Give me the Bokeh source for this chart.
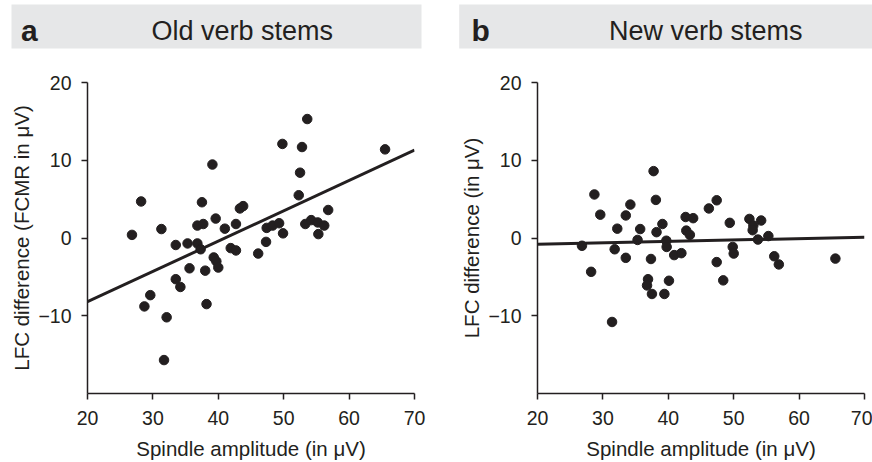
from bokeh.plotting import figure
from bokeh.layouts import column, row
from bokeh.models import FixedTicker, BoxAnnotation, Label, ColumnDataSource
from bokeh.embed import file_html
from bokeh.resources import INLINE

# ---------------- data ----------------
panel_letters = ["a", "b"]
panel_titles = ["Old verb stems", "New verb stems"]
x_label = "Spindle amplitude (in μV)"
y_labels = ["LFC difference (FCMR in μV)", "LFC difference (in μV)"]
x_ticks = [20, 30, 40, 50, 60, 70]
y_ticks = [-10, 0, 10, 20]

old_x = [39.1, 28.2, 37.5, 26.8, 31.3, 36.8, 37.7, 39.6, 41.0, 42.7, 43.3, 43.8,
         53.6, 49.8, 52.8, 65.5, 52.5, 52.3, 56.8, 47.4, 48.3, 49.3, 49.9, 53.3,
         54.2, 55.2, 56.2, 55.3, 47.3, 46.1, 33.5, 35.3, 36.8, 37.3, 41.9, 42.7,
         39.3, 39.7, 40.0, 35.6, 38.0, 33.5, 34.2, 29.6, 28.7, 38.2, 32.1, 31.7]
old_y = [9.45, 4.7, 4.6, 0.4, 1.15, 1.6, 1.8, 2.5, 1.2, 1.8, 3.8, 4.1,
         15.3, 12.1, 11.7, 11.4, 8.4, 5.5, 3.6, 1.3, 1.6, 1.9, 0.6, 1.8,
         2.3, 2.0, 1.6, 0.5, -0.5, -2.0, -0.9, -0.7, -0.7, -1.45, -1.3, -1.6,
         -2.5, -3.0, -3.8, -3.9, -4.2, -5.3, -6.3, -7.35, -8.8, -8.5, -10.2, -15.7]

new_x = [37.75, 28.7, 38.1, 34.2, 29.6, 33.5, 42.65, 43.8, 39.1, 32.2, 35.7, 38.2,
         42.75, 43.3, 35.3, 39.7, 39.75, 26.8, 31.8, 40.9, 42.0, 33.5, 37.35, 28.2,
         36.9, 36.75, 40.1, 37.5, 39.4, 31.4, 47.4, 46.2, 49.4, 52.4, 54.2, 53.0,
         52.9, 53.7, 55.3, 49.85, 50.0, 47.4, 56.2, 56.9, 65.55, 48.4]
new_y = [8.6, 5.6, 4.9, 4.3, 3.0, 2.9, 2.7, 2.55, 1.8, 1.2, 1.15, 0.75,
         0.95, 0.4, -0.25, -0.35, -1.15, -1.0, -1.45, -2.2, -1.95, -2.55, -2.7, -4.35,
         -5.3, -6.1, -5.5, -7.2, -7.2, -10.8, 4.85, 3.8, 1.95, 2.45, 2.25, 1.6,
         1.0, -0.2, 0.25, -1.15, -2.0, -3.1, -2.35, -3.4, -2.65, -5.45]

fit_x = [20, 70]
old_fit_y = [-8.2, 11.3]
new_fit_y = [-0.8, 0.1]

# ---------------- style ----------------
INK = "#231f20"
FONT = "Liberation Sans"
BAND = "#e6e7e8"


def header(letter, title, band_left, band_right, letter_x, title_x):
    h = figure(width=436, height=52, x_range=(0, 436), y_range=(0, 52),
               min_border=0, toolbar_location=None, output_backend="svg",
               x_axis_location=None, y_axis_location=None)
    h.grid.visible = False
    h.outline_line_color = None
    h.add_layout(BoxAnnotation(left=band_left, right=band_right, bottom=4, top=48,
                               fill_color=BAND, fill_alpha=1, line_color=None))
    h.add_layout(Label(x=letter_x, y=22, text=letter, text_font=FONT,
                       text_font_size="30px", text_font_style="bold",
                       text_color=INK, text_baseline="middle"))
    h.add_layout(Label(x=title_x, y=22, text=title, text_font=FONT,
                       text_font_size="27px", text_color=INK,
                       text_align="center", text_baseline="middle"))
    return h


def panel(xs, ys, fy, ylabel, border_left, border_right):
    p = figure(width=436, height=410, x_range=(20, 70), y_range=(-20, 20),
               min_border_left=border_left, min_border_right=border_right,
               min_border_top=30, min_border_bottom=68,
               toolbar_location=None, output_backend="svg")
    p.grid.visible = False
    p.outline_line_color = None
    p.xaxis.ticker = FixedTicker(ticks=x_ticks)
    p.yaxis.ticker = FixedTicker(ticks=y_ticks)
    p.yaxis.major_label_overrides = {t: (("\u2212" + str(abs(t))) if t < 0 else str(t)) for t in y_ticks}
    for ax in (p.xaxis[0], p.yaxis[0]):
        ax.axis_line_color = INK
        ax.axis_line_width = 1.5
        ax.major_tick_line_color = INK
        ax.major_tick_line_width = 1.5
        ax.major_tick_out = 6
        ax.major_tick_in = 0
        ax.minor_tick_line_color = None
        ax.major_label_text_font = FONT
        ax.major_label_text_font_size = "19.5px"
        ax.major_label_text_color = INK
        ax.axis_label_text_font = FONT
        ax.axis_label_text_font_size = "20.5px"
        ax.axis_label_text_font_style = "normal"
        ax.axis_label_text_color = INK
    p.xaxis.axis_label = x_label
    p.xaxis.major_label_standoff = 11
    p.xaxis.axis_label_standoff = 9
    p.yaxis.axis_label = ylabel
    p.yaxis.major_label_standoff = 10
    p.yaxis.axis_label_standoff = 2

    src = ColumnDataSource(dict(x=xs, y=ys))
    p.line(fit_x, fy, line_color=INK, line_width=3)
    p.scatter("x", "y", source=src, size=9.5, fill_color=INK, line_color=INK)
    return p


h1 = header(panel_letters[0], panel_titles[0], 11, 421, 20.5, 241.7)
h2 = header(panel_letters[1], panel_titles[1], 22.7, 436, 35, 269.2)
p1 = panel(old_x, old_y, old_fit_y, y_labels[0], 87, 22)
p2 = panel(new_x, new_y, new_fit_y, y_labels[1], 101, 8)

layout = column(row(h1, h2, spacing=0), row(p1, p2, spacing=0), spacing=0)

with open("out.html", "w") as f:
    f.write(file_html(layout, INLINE))
